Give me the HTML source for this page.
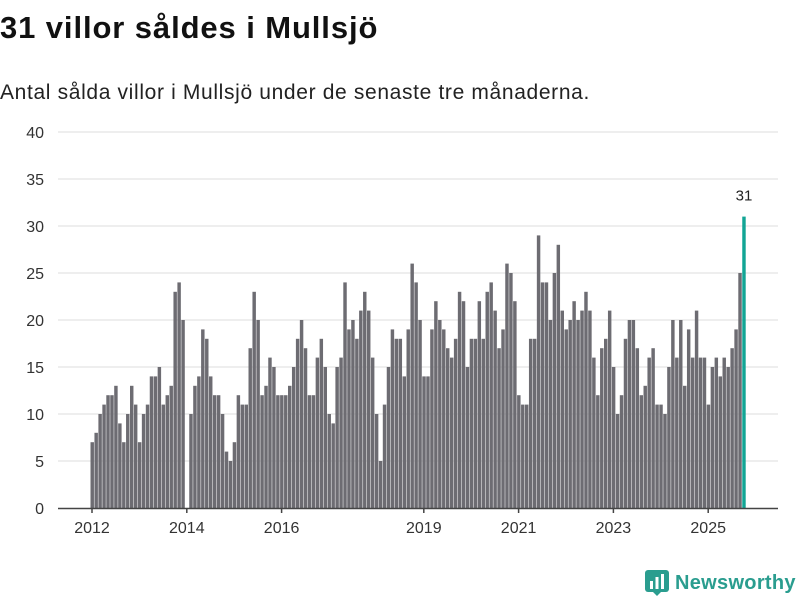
<!DOCTYPE html>
<html><head><meta charset="utf-8"><style>
body{margin:0;width:800px;height:600px;background:#fff;font-family:"Liberation Sans",sans-serif;overflow:hidden;position:relative}
h1{position:absolute;left:0;top:10px;margin:0;font-size:31px;font-weight:bold;color:#111;letter-spacing:0.9px;white-space:nowrap}
p.sub{position:absolute;left:0;top:81px;margin:0;font-size:21px;color:#222;letter-spacing:0.65px;white-space:nowrap}
svg{position:absolute;left:0;top:0}
.logo{position:absolute;left:645px;top:570px;display:flex;align-items:center;gap:6px;color:#2a9d8f;font-weight:bold;font-size:20px;letter-spacing:0.3px}
</style></head><body>
<h1>31 villor såldes i Mullsjö</h1>
<p class="sub">Antal sålda villor i Mullsjö under de senaste tre månaderna.</p>
<svg id="chart" width="800" height="600"></svg>
<div class="logo">
<svg width="24" height="26" viewBox="0 0 24 26" style="position:static"><rect x="0" y="0" width="24" height="22" rx="3" fill="#2a9d8f"/><polygon points="8,22 16,22 12,26" fill="#2a9d8f"/><rect x="5" y="11" width="3" height="8" fill="#fff"/><rect x="10.5" y="7" width="3" height="12" fill="#fff"/><rect x="16" y="4" width="3" height="15" fill="#fff"/></svg>
<span>Newsworthy</span></div>
<script>
const values=[7,8,10,11,12,12,13,9,7,10,13,11,
7,10,11,14,14,15,11,12,13,23,24,20,
0,10,13,14,19,18,14,12,12,10,6,5,
7,12,11,11,17,23,20,12,13,16,15,12,
12,12,13,15,18,20,17,12,12,16,18,15,
10,9,15,16,24,19,20,18,21,23,21,16,
10,5,11,15,19,18,18,14,19,26,24,20,
14,14,19,22,20,19,17,16,18,23,22,15,
18,18,22,18,23,24,21,17,19,26,25,22,
12,11,11,18,18,29,24,24,20,25,28,21,
19,20,22,20,21,23,21,16,12,17,18,21,
15,10,12,18,20,20,17,12,13,16,17,11,
11,10,15,20,16,20,13,19,16,21,16,16,
11,15,16,14,16,15,17,19,25,31];
const yTicks=[0,5,10,15,20,25,30,35,40];
const xTickLabels=["2012","2014","2016","2019","2021","2023","2025"];
const xTickIndex=[0,24,48,84,108,132,156];
const NS="http://www.w3.org/2000/svg";
const svg=document.getElementById('chart');
const x0=90.5,step=3.95,bw=3.45,y0=508,yTop=132,yMax=40;
const x=i=>x0+i*step;
const y=v=>y0-(v/yMax)*(y0-yTop);
function mk(t,a){const e=document.createElementNS(NS,t);for(const k in a)e.setAttribute(k,a[k]);svg.appendChild(e);return e;}
yTicks.forEach(t=>{
 if(t>0){const g=mk('line',{x1:58,x2:778,y1:y(t),y2:y(t),stroke:'#dedede','stroke-width':1});
 
 }
 const l=mk('text',{x:44,y:y(t)+6,'text-anchor':'end','font-size':16,fill:'#333','font-family':'Liberation Sans, sans-serif'});
 l.textContent=t;
 
 
});
values.forEach((v,i)=>{
 if(v<=0)return;
 const last=i===values.length-1;
 const r=mk('rect',{x:x(i),y:y(v),width:bw,height:y0-y(v),fill:last?'#12a595':'#6d6c72'});
 
 
});
const li=values.length-1;
const lab=mk('text',{x:x(li)+bw/2,y:y(values[li])-16,'text-anchor':'middle','font-size':15,fill:'#222','font-family':'Liberation Sans, sans-serif'});
lab.textContent=values[li];


const ax=mk('line',{x1:58,x2:778,y1:y0+0.5,y2:y0+0.5,stroke:'#444','stroke-width':1.5});


xTickLabels.forEach((s,k)=>{
 const xx=x(xTickIndex[k])+1.5;
 const tk=mk('line',{x1:xx,x2:xx,y1:y0,y2:y0+5,stroke:'#444','stroke-width':1.5});
 
 
 const t=mk('text',{x:xx,y:y0+25,'text-anchor':'middle','font-size':16,fill:'#333','font-family':'Liberation Sans, sans-serif'});
 t.textContent=s;
 
 
});
</script>
</body></html>
